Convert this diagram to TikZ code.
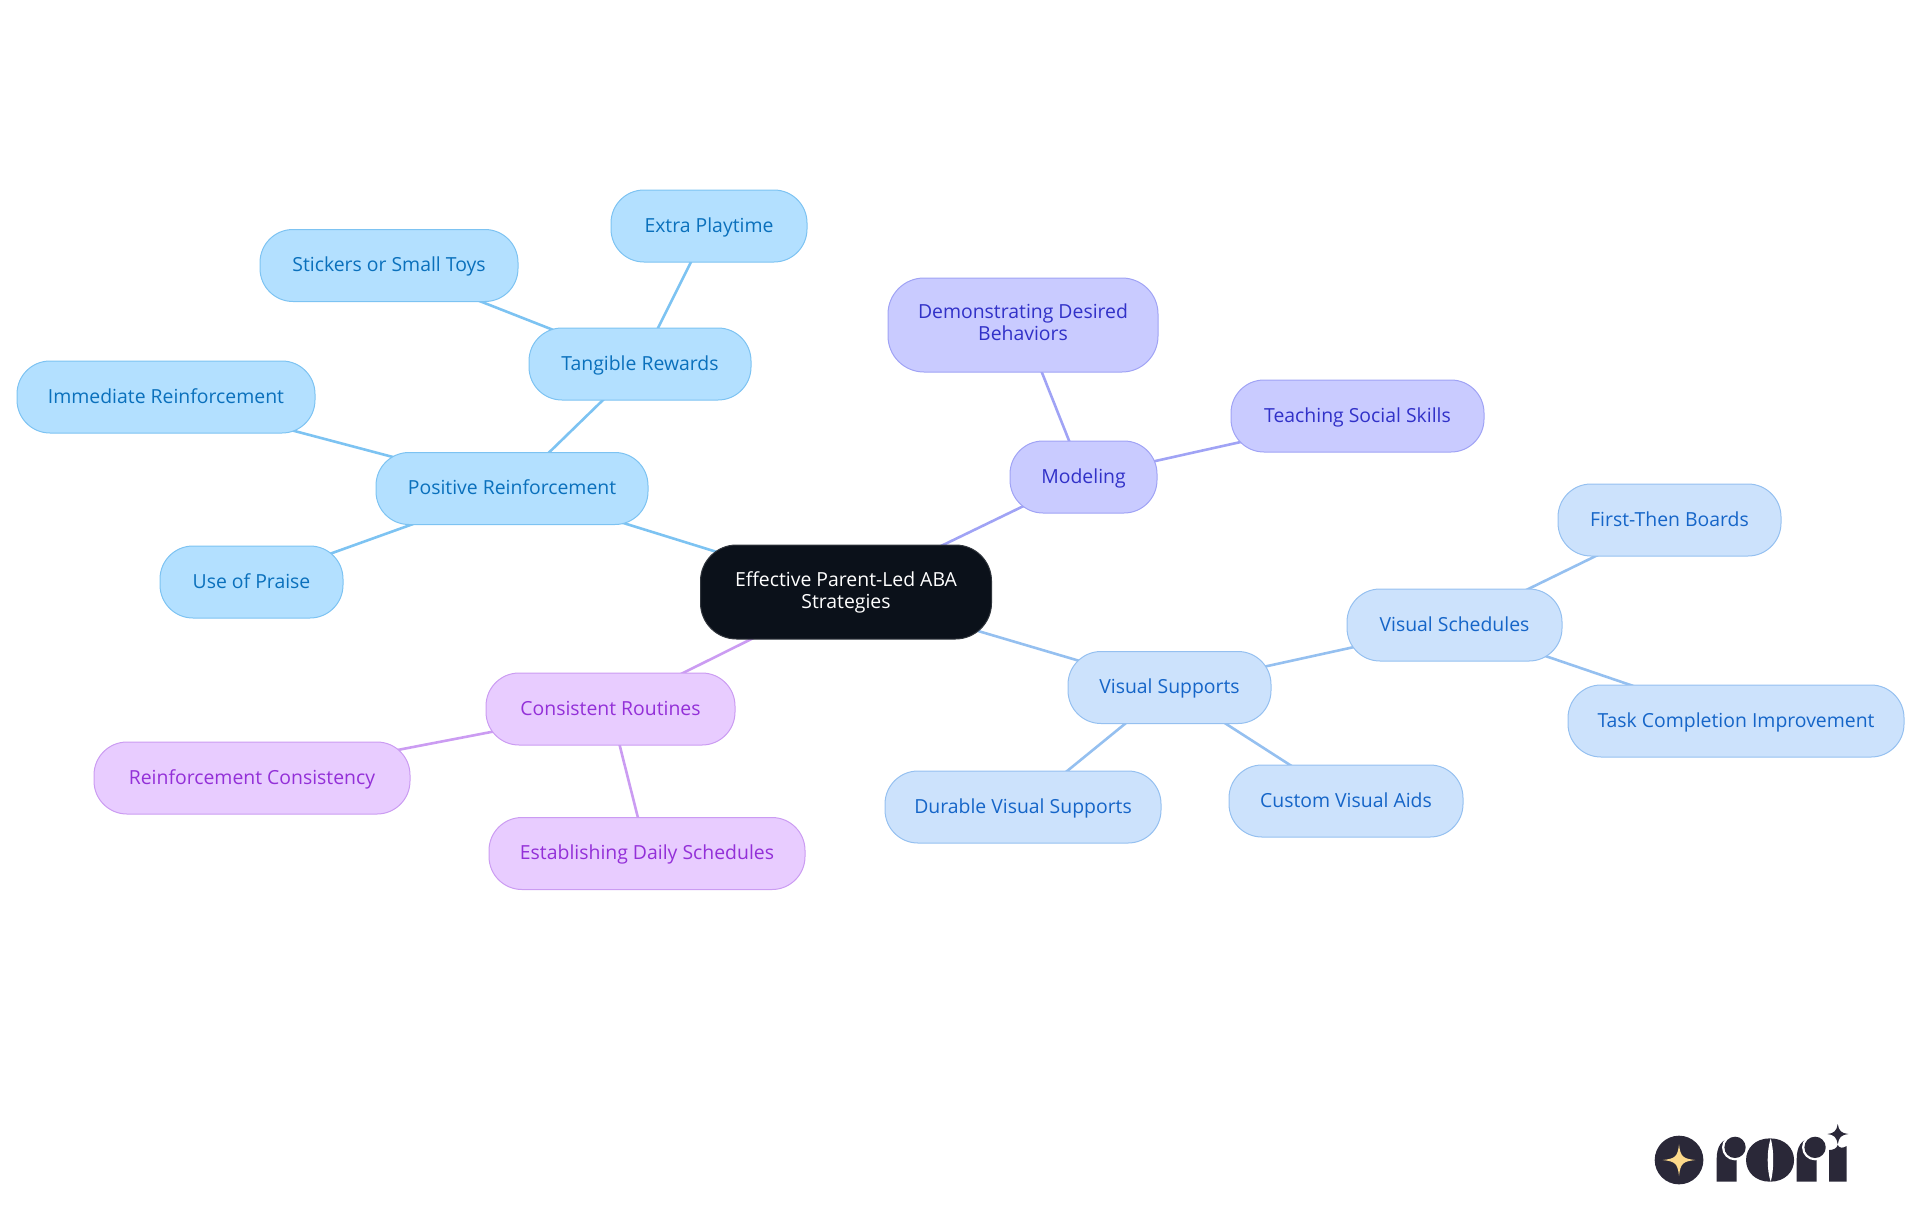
\documentclass[tikz,border=0pt]{standalone}
\usepackage{fontspec}
\setmainfont{Open Sans}
\usepackage{xcolor}
\usepackage{tikz}
\usetikzlibrary{backgrounds}

\definecolor{rootfill}{HTML}{0B111A}
\definecolor{posfill}{HTML}{B3E0FF}
\definecolor{posline}{HTML}{7DC3F2}
\definecolor{postext}{HTML}{0A70BC}
\definecolor{modfill}{HTML}{C9CBFF}
\definecolor{modline}{HTML}{A0A3F5}
\definecolor{modtext}{HTML}{3131C8}
\definecolor{visfill}{HTML}{CCE2FC}
\definecolor{visline}{HTML}{95C0F0}
\definecolor{vistext}{HTML}{1565C8}
\definecolor{roufill}{HTML}{E8CCFF}
\definecolor{rouline}{HTML}{CB9CF2}
\definecolor{routext}{HTML}{9330D8}
\definecolor{logodark}{HTML}{2A2838}
\definecolor{logostar}{HTML}{FCD98A}

\newcommand{\boxstrut}{\rule[-2.4pt]{0pt}{11pt}}

\tikzset{
    basebox/.style={rectangle, rounded corners=16.5pt, inner sep=0pt, minimum height=36pt,
        align=center, line width=0.5pt, font=\fontsize{9.7}{11}\selectfont,
        execute at begin node=\boxstrut, execute at end node=\boxstrut},
    rootbox/.style={basebox, fill=rootfill, draw=rootfill!85!white, text=white, minimum height=47pt, rounded corners=18pt},
    posbox/.style={basebox, fill=posfill, draw=posline, text=postext},
    modbox/.style={basebox, fill=modfill, draw=modline, text=modtext},
    visbox/.style={basebox, fill=visfill, draw=visline, text=vistext},
    roubox/.style={basebox, fill=roufill, draw=rouline, text=routext},
    link/.style={line width=1.3pt}
}

\begin{document}
\begin{tikzpicture}[x=0.5pt, y=-0.5pt]
    \useasboundingbox (0,0) rectangle (1920,1215);

    \node[rootbox, minimum width=145.5pt] (root) at (846,592) {Effective Parent-Led ABA\\Strategies};

    % === Positive Reinforcement ===
    \node[posbox, minimum width=136pt] (positive) at (512,488.5) {Positive Reinforcement};
    \node[posbox, minimum width=111pt] (tangible) at (640,364) {Tangible Rewards};
    \node[posbox, minimum width=98pt] (playtime) at (709,226) {Extra Playtime};
    \node[posbox, minimum width=129pt] (stickers) at (389,265.5) {Stickers or Small Toys};
    \node[posbox, minimum width=149pt] (immediate) at (166,397) {Immediate Reinforcement};
    \node[posbox, minimum width=91.5pt] (praise) at (251.5,582) {Use of Praise};

    % === Modeling ===
    \node[modbox, minimum width=73.5pt] (modeling) at (1083.5,477) {Modeling};
    \node[modbox, minimum width=135pt, minimum height=47pt, rounded corners=18pt] (desired) at (1023,325) {Demonstrating Desired\\Behaviors};
    \node[modbox, minimum width=126.5pt] (social) at (1357.5,416) {Teaching Social Skills};

    % === Visual Supports ===
    \node[visbox, minimum width=101.5pt] (supports) at (1169.5,687.5) {Visual Supports};
    \node[visbox, minimum width=107.5pt] (schedules) at (1454.5,625) {Visual Schedules};
    \node[visbox, minimum width=111.5pt] (firstthen) at (1669.5,520) {First-Then Boards};
    \node[visbox, minimum width=168pt] (completion) at (1736,721) {Task Completion Improvement};
    \node[visbox, minimum width=117pt] (custom) at (1346,801) {Custom Visual Aids};
    \node[visbox, minimum width=138pt] (durable) at (1023,807) {Durable Visual Supports};

    % === Consistent Routines ===
    \node[roubox, minimum width=124.5pt] (routines) at (610.5,709) {Consistent Routines};
    \node[roubox, minimum width=158pt] (consistency) at (252,778) {Reinforcement Consistency};
    \node[roubox, minimum width=158pt] (daily) at (647,853.5) {Establishing Daily Schedules};

    % === Links go under the boxes ===
    \begin{scope}[on background layer]
        \draw[link, posline] (root.center) -- (positive.center);
        \draw[link, posline] (positive.center) -- (tangible.center);
        \draw[link, posline] (tangible.center) -- (playtime.center);
        \draw[link, posline] (tangible.center) -- (stickers.center);
        \draw[link, posline] (positive.center) -- (immediate.center);
        \draw[link, posline] (positive.center) -- (praise.center);

        \draw[link, modline] (root.center) -- (modeling.center);
        \draw[link, modline] (modeling.center) -- (desired.center);
        \draw[link, modline] (modeling.center) -- (social.center);

        \draw[link, visline] (root.center) -- (supports.center);
        \draw[link, visline] (supports.center) -- (schedules.center);
        \draw[link, visline] (schedules.center) -- (firstthen.center);
        \draw[link, visline] (schedules.center) -- (completion.center);
        \draw[link, visline] (supports.center) -- (custom.center);
        \draw[link, visline] (supports.center) -- (durable.center);

        \draw[link, rouline] (root.center) -- (routines.center);
        \draw[link, rouline] (routines.center) -- (consistency.center);
        \draw[link, rouline] (routines.center) -- (daily.center);
    \end{scope}

    % === Logo ===
    \begin{scope}[shift={(1620,1100)}, x=0.1667pt, y=-0.1667pt]
        \fill[logodark] (177,180) circle (73);
        \fill[logostar] (128,180) .. controls (165,176) and (173,170) .. (177,133)
            .. controls (181,170) and (189,176) .. (226,180)
            .. controls (189,184) and (181,190) .. (177,228)
            .. controls (173,190) and (165,184) .. (128,180) -- cycle;

        % first r
        \fill[logodark] (290,245) -- (290,175) .. controls (290,140) and (305,118) .. (330,115) -- (350,115) -- (350,245) -- cycle;
        \fill[white] (345,142) circle (39);
        \fill[logodark] (345,142) circle (32);

        % o
        \fill[logodark] (450,115) .. controls (495,115) and (522,145) .. (522,180)
            .. controls (522,215) and (495,245) .. (450,245)
            .. controls (405,245) and (378,215) .. (378,180)
            .. controls (378,145) and (405,115) .. (450,115) -- cycle;
        \fill[white] (452,115) .. controls (440,150) and (440,210) .. (452,245)
            .. controls (462,210) and (462,150) .. (452,115) -- cycle;

        % second r
        \fill[logodark] (530,245) -- (530,175) .. controls (530,140) and (545,118) .. (570,115) -- (590,115) -- (590,245) -- cycle;
        \fill[white] (585,142) circle (39);
        \fill[logodark] (585,142) circle (32);

        % i with its star
        \fill[logodark] (627,245) -- (627,150) .. controls (640,150) and (650,145) .. (653,135)
            .. controls (658,145) and (668,145) .. (680,138) -- (680,245) -- cycle;
        \fill[logodark] (622,102) .. controls (642,100) and (650,92) .. (653,72)
            .. controls (656,92) and (664,100) .. (685,102)
            .. controls (664,104) and (656,112) .. (653,133)
            .. controls (650,112) and (642,104) .. (622,102) -- cycle;
    \end{scope}
\end{tikzpicture}
\end{document}
